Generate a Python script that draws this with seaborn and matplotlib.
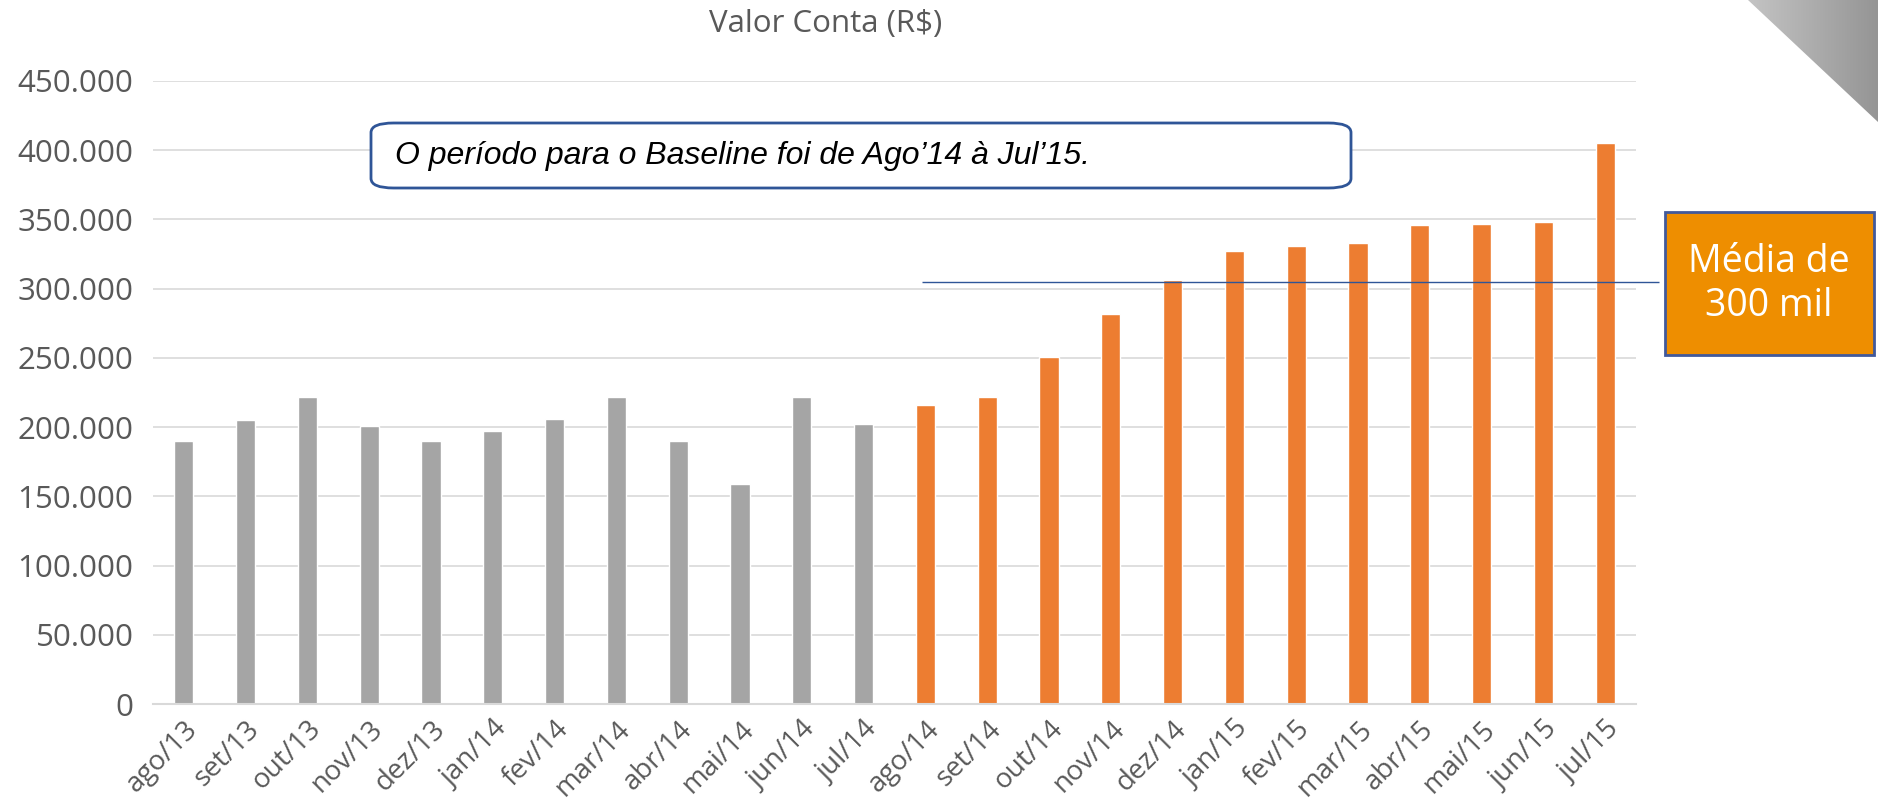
import numpy as np
import pandas as pd
import matplotlib
matplotlib.use("Agg")
import matplotlib.pyplot as plt
import seaborn as sns
from matplotlib.patches import FancyBboxPatch, Rectangle, Polygon

# data
months = ['ago/13', 'set/13', 'out/13', 'nov/13', 'dez/13', 'jan/14', 'fev/14', 'mar/14',
          'abr/14', 'mai/14', 'jun/14', 'jul/14', 'ago/14', 'set/14', 'out/14', 'nov/14',
          'dez/14', 'jan/15', 'fev/15', 'mar/15', 'abr/15', 'mai/15', 'jun/15', 'jul/15']
valores = [190000, 205000, 222000, 201000, 190000, 197000, 206000, 222000,
           190000, 159000, 222000, 202000, 216000, 222000, 251000, 282000,
           306000, 327000, 331000, 333000, 346000, 347000, 348000, 405000]
periodo = ['antes'] * 12 + ['baseline'] * 12
media = 304500
y_ticks = [0, 50000, 100000, 150000, 200000, 250000, 300000, 350000, 400000, 450000]
y_labels = ['0', '50.000', '100.000', '150.000', '200.000', '250.000', '300.000',
            '350.000', '400.000', '450.000']

df = pd.DataFrame({'mes': months, 'valor': valores, 'periodo': periodo})

sns.set_style('white')
plt.rcParams['font.family'] = ['Open Sans', 'DejaVu Sans']

fig = plt.figure(figsize=(18.78, 8), dpi=100)
ax = fig.add_axes([153 / 1878, 96 / 800, (1636 - 153) / 1878, (704 - 81) / 800])

sns.barplot(data=df, x='mes', y='valor', hue='periodo',
            palette={'antes': '#A5A5A5', 'baseline': '#ED7D31'},
            dodge=False, width=0.31, saturation=1, legend=False, ax=ax)

ax.set_xlim(-0.5, len(months) - 0.5)
ax.set_ylim(0, 450000)
ax.set_yticks(y_ticks)
ax.set_yticklabels(y_labels)
ax.yaxis.grid(True, color='#D9D9D9', lw=1.2)
ax.set_axisbelow(True)
for s in ['left', 'right', 'top']:
    ax.spines[s].set_visible(False)
ax.spines['bottom'].set_color('#D9D9D9')
ax.spines['bottom'].set_linewidth(1.5)
ax.set_xlabel('')
ax.set_ylabel('')

ax.set_xticks(range(len(months)))
ax.set_xticklabels(months, rotation=45, ha='right', rotation_mode='anchor')
ax.set_xticks(np.arange(-0.5, len(months), 1), minor=True)
ax.tick_params(axis='x', which='major', length=0, pad=8, labelsize=20, colors='#595959')
ax.tick_params(axis='x', which='minor', length=10, width=1.5, color='#D9D9D9')
ax.tick_params(axis='y', length=0, pad=14, labelsize=22.5, colors='#595959')

# average line
ax.hlines(media, 11.95, 23.87, color='#2F5597', lw=1, clip_on=False, zorder=5)

fig.text(826 / 1878, 1 - 24 / 800, 'Valor Conta (R$)', ha='center', va='center',
         fontsize=22.5, color='#595959')

# baseline note box
note = FancyBboxPatch((371 / 1878, 1 - 188 / 800), (1351 - 371) / 1878, (188 - 123) / 800,
                      boxstyle='round,pad=0,rounding_size=0.012', transform=fig.transFigure,
                      facecolor='white', edgecolor='#2F5597', lw=2, zorder=10)
fig.patches.append(note)
fig.text(395 / 1878, 1 - 156 / 800, 'O período para o Baseline foi de Ago\u201914 à Jul\u201915.',
         ha='left', va='center', fontsize=23, style='italic', family='Liberation Sans',
         color='black', zorder=11)

# orange average box
box = Rectangle((1665 / 1878, 1 - 355 / 800), (1874 - 1665) / 1878, (355 - 212) / 800,
                transform=fig.transFigure, facecolor='#EE8E00', edgecolor='#41599B',
                lw=2, zorder=10)
fig.patches.append(box)
fig.text(1769 / 1878, 1 - 284 / 800, 'Média de\n300 mil', ha='center', va='center',
         fontsize=27, color='white', linespacing=1.2, zorder=11)

# page-curl corner
cax = fig.add_axes([0, 0, 1, 1], zorder=-1)
cax.set_xlim(0, 1878)
cax.set_ylim(800, 0)
cax.axis('off')
grad = np.linspace(0, 1, 256).reshape(1, -1)
im = cax.imshow(grad, extent=[1748, 1878, 122, 0], cmap=matplotlib.colors.LinearSegmentedColormap.from_list('g', ['#C4C4C4', '#959595']), aspect='auto')
tri = Polygon([[1748, 0], [1878, 0], [1878, 122]], closed=True, transform=cax.transData)
im.set_clip_path(tri)
ax.set_zorder(1)
ax.patch.set_alpha(0)

fig.savefig('out.png', dpi=100)
